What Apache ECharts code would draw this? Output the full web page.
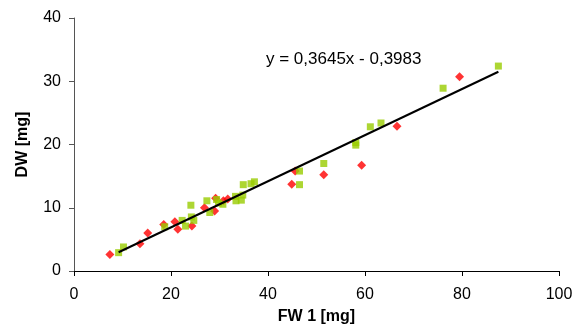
<!DOCTYPE html>
<html>
<head>
<meta charset="utf-8">
<script src="https://cdn.jsdelivr.net/npm/echarts@6/dist/echarts.min.js"></script>
<style>html,body{margin:0;padding:0;background:#fff;}#c{width:578px;height:331px;}</style>
</head>
<body>
<div id="c"></div>
<script>
// Red diamonds series [FW, DW]
const redFW = [7.4, 13.6, 15.2, 18.5, 20.8, 21.4, 24.3, 26.9, 29.0, 29.2, 30.8, 31.7, 44.9, 45.6, 51.5, 59.3, 66.6, 79.5];
const redDW = [2.6, 4.3, 6.0, 7.35, 7.8, 6.6, 7.1, 10.0, 9.5, 11.5, 11.1, 11.4, 13.7, 15.8, 15.2, 16.7, 22.9, 30.7];
// Green squares series [FW, DW]
const greenFW = [9.2, 10.2, 18.7, 22.3, 23.0, 24.1, 24.2, 24.7, 27.4, 28.0, 29.4, 29.8, 30.7, 33.3, 33.4, 34.5, 34.8, 34.9, 36.5, 37.2, 46.5, 46.5, 51.5, 58.1, 58.1, 61.1, 63.3, 76.1, 87.5];
const greenDW = [2.9, 3.8, 7.0, 8.0, 7.1, 10.4, 8.55, 8.0, 11.1, 9.25, 11.3, 10.75, 10.55, 11.8, 11.1, 11.2, 12.0, 13.65, 13.8, 14.1, 15.8, 13.65, 17.0, 20.3, 19.9, 22.8, 23.4, 28.9, 32.4];
// Trend line endpoints (y = 0,3645x - 0,3983)
const trendFW = [9.2, 87.5];
const trendDW = [2.96, 31.5];
const xTicks = [0, 20, 40, 60, 80, 100];
const yTicks = [0, 10, 20, 30, 40];
const equationText = 'y = 0,3645x - 0,3983';

const zip = (a, b) => a.map((v, i) => [v, b[i]]);
const font = '"Liberation Sans", Arial, sans-serif';
const chart = echarts.init(document.getElementById('c'), null, {renderer: 'canvas'});
chart.setOption({
  animation: false,
  backgroundColor: '#fff',
  grid: {left: 74, right: 19, top: 18, bottom: 60},
  xAxis: {
    type: 'value', min: 0, max: 100, interval: 20,
    name: 'FW 1 [mg]', nameLocation: 'middle', nameGap: 38,
    nameTextStyle: {fontFamily: font, fontSize: 16, fontWeight: 'bold', color: '#000'},
    axisLine: {show: true, lineStyle: {color: '#000', width: 1}},
    axisTick: {show: true, inside: false, length: 5, lineStyle: {color: '#000'}},
    axisLabel: {fontFamily: font, fontSize: 16, color: '#000', margin: 16},
    splitLine: {show: false}
  },
  yAxis: {
    type: 'value', min: 0, max: 40, interval: 10,
    name: 'DW [mg]', nameLocation: 'middle', nameGap: 43, nameRotate: 90,
    nameTextStyle: {fontFamily: font, fontSize: 16, fontWeight: 'bold', color: '#000'},
    axisLine: {show: true, lineStyle: {color: '#555', width: 1}},
    axisTick: {show: true, inside: false, length: 5, lineStyle: {color: '#555'}},
    axisLabel: {fontFamily: font, fontSize: 16, color: '#000', margin: 13},
    splitLine: {show: false}
  },
  series: [
    {
      type: 'line', data: zip(trendFW, trendDW), symbol: 'none',
      lineStyle: {color: '#000', width: 2}, z: 3, silent: true
    },
    {
      type: 'scatter', data: zip(redFW, redDW), symbol: 'diamond', symbolSize: 9,
      itemStyle: {color: '#FF0000'}, z: 2
    },
    {
      type: 'scatter', data: zip(greenFW, greenDW), symbol: 'rect', symbolSize: 7,
      itemStyle: {color: '#99CC00'}, z: 2
    }
  ],
  graphic: [{
    type: 'text', left: 266, top: 51,
    style: {text: equationText, font: '17px ' + font, fill: '#000'}
  }]
});
</script>
</body>
</html>
